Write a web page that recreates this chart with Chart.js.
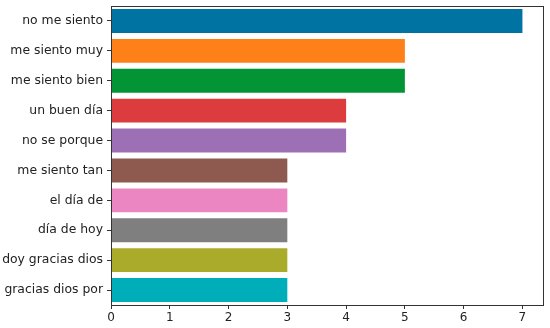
<!DOCTYPE html>
<html>
<head>
<meta charset="utf-8">
<script src="https://cdn.jsdelivr.net/npm/chart.js@4.4.1/dist/chart.umd.min.js"></script>
<style>
  html, body { margin: 0; padding: 0; background: #fff; }
  #wrap { width: 550px; height: 328px; position: relative; }
</style>
</head>
<body>
<div id="wrap"><canvas id="chart"></canvas></div>
<script>
// phrases and their counts, top to bottom
var phrases = ["no me siento", "me siento muy", "me siento bien", "un buen día", "no se porque",
               "me siento tan", "el día de", "día de hoy", "doy gracias dios", "gracias dios por"];
var counts = [7, 5, 5, 4, 4, 3, 3, 3, 3, 3];
var xTicks = [0, 1, 2, 3, 4, 5, 6, 7];
var barColors = ['#0173a2', '#fd8019', '#039535', '#dd3c3f', '#9d70b5',
                 '#8e5a4f', '#ec86c2', '#7f7f7f', '#aaab2a', '#00aeba'];

// draws the box around the plot area
var frame = {
    id: 'frame',
    afterDraw: function(chart) {
        var a = chart.chartArea, c = chart.ctx;
        c.save();
        c.strokeStyle = '#333';
        c.lineWidth = 1;
        c.strokeRect(Math.round(a.left) + 0.5, Math.round(a.top) + 0.5,
                     Math.round(a.right - a.left), Math.round(a.bottom - a.top));
        c.restore();
    }
};

var ctx = document.getElementById("chart");
var chart = new Chart(ctx, {
    type: 'bar',
    data: {
        labels: phrases,
        datasets: [{
            data: counts,
            backgroundColor: barColors,
            borderWidth: 0,
            categoryPercentage: 0.8,
            barPercentage: 1.0
        }]
    },
    options: {
        indexAxis: 'y',
        responsive: true,
        maintainAspectRatio: false,
        animation: false,
        layout: { padding: { top: 6, right: 7, left: 0, bottom: 0 } },
        plugins: {
            legend: { display: false },
            tooltip: { enabled: false }
        },
        scales: {
            x: {
                min: 0,
                max: 7.35,
                afterBuildTicks: function(scale) {
                    scale.ticks = xTicks.map(function(v) { return { value: v }; });
                },
                afterFit: function(scale) {
                    scale.height = 23;
                    scale.paddingLeft = 0;
                    scale.paddingRight = 0;
                },
                grid: { display: true, drawOnChartArea: false, drawTicks: true, tickLength: 4, color: '#333' },
                border: { display: false },
                ticks: { color: '#222', font: { family: 'DejaVu Sans', size: 12 }, padding: 2, maxRotation: 0 }
            },
            y: {
                afterFit: function(scale) {
                    scale.width = 111;
                    scale.paddingTop = 0;
                    scale.paddingBottom = 0;
                },
                grid: { display: true, drawOnChartArea: false, drawTicks: true, tickLength: 4, color: '#333', offset: false },
                border: { display: false },
                ticks: { color: '#222', font: { family: 'DejaVu Sans', size: 12.4 }, padding: 4 }
            }
        }
    },
    plugins: [frame]
});
</script>
</body>
</html>
